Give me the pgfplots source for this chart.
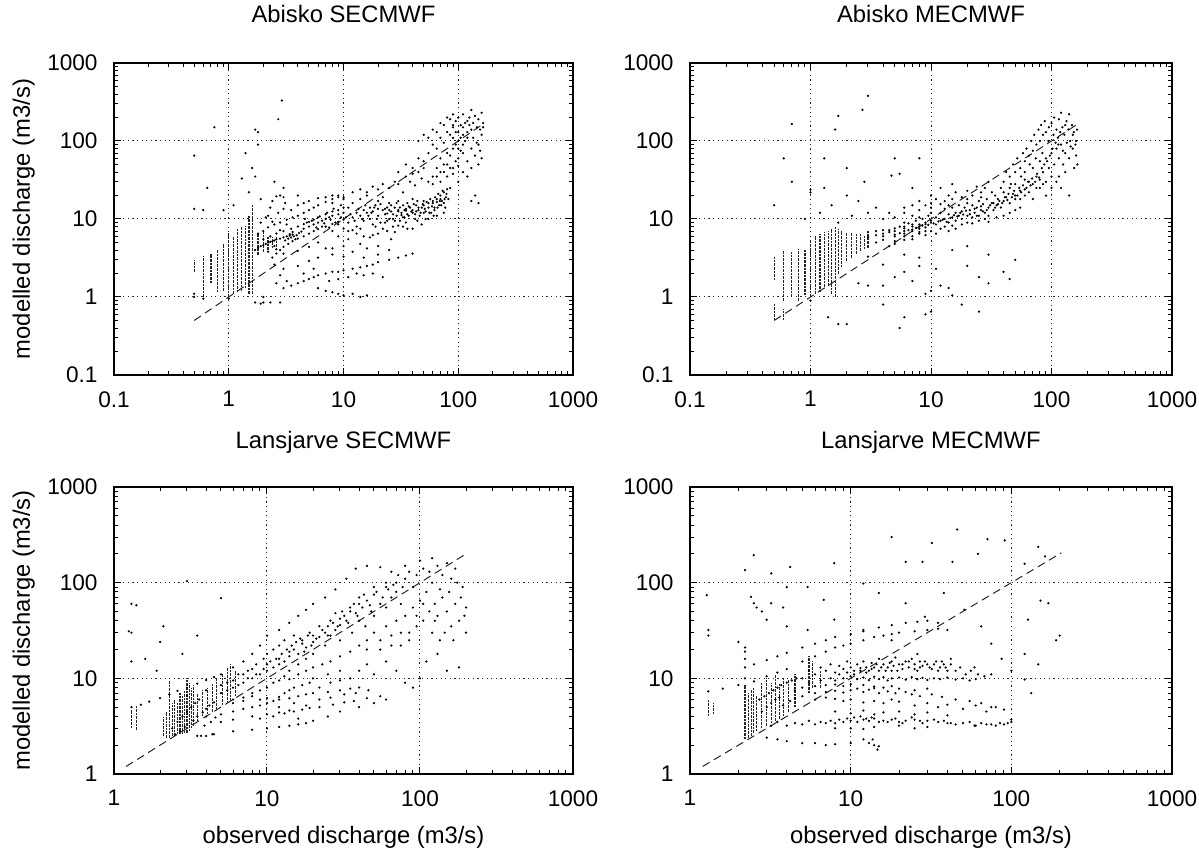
\documentclass[border=0pt]{standalone}
\usepackage{fontspec}
\setmainfont{Liberation Sans}
\usepackage{pgfplots}
\pgfplotsset{compat=1.18}
\newcommand{\fnt}{\fontsize{11.9}{14.2}\selectfont}
\newcommand{\tfnt}{\fontsize{11.3}{13.5}\selectfont}
\pgfplotsset{
  mypanel/.style={
    scale only axis, anchor=south west,
    axis line style={line width=0.8pt},
    tick style={black, line width=0.5pt},
    major tick length=3.5pt, minor tick length=1.8pt,
    tick align=inside,
    grid=major,
    major grid style={black!85, line width=0.5pt, dash pattern=on 0.6pt off 1.7pt},
    tick label style={font=\tfnt},
    label style={font=\fnt},
    xticklabel style={yshift=-4.6pt},
    yticklabel style={xshift=-4.7pt},
    unbounded coords=jump,
  },
  mytop/.style={
    xmin=0.1, xmax=1000, ymin=0.1, ymax=1000,
    xtick={0.1,1,10,100,1000}, xticklabels={0.1,1,10,100,1000},
    ytick={0.1,1,10,100,1000}, yticklabels={0.1,1,10,100,1000},
    minor xtick={0.2,0.3,0.4,0.5,0.6,0.7,0.8,0.9,2,3,4,5,6,7,8,9,20,30,40,50,60,70,80,90,200,300,400,500,600,700,800,900},
    minor ytick={0.2,0.3,0.4,0.5,0.6,0.7,0.8,0.9,2,3,4,5,6,7,8,9,20,30,40,50,60,70,80,90,200,300,400,500,600,700,800,900},
    title style={font=\fnt, at={(axis description cs:0.5,1)}, anchor=base, yshift=14.2pt},
  },
  mybot/.style={
    xmin=1, xmax=1000, ymin=1, ymax=1000,
    xtick={1,10,100,1000}, xticklabels={1,10,100,1000},
    ytick={1,10,100,1000}, yticklabels={1,10,100,1000},
    minor xtick={2,3,4,5,6,7,8,9,20,30,40,50,60,70,80,90,200,300,400,500,600,700,800,900},
    minor ytick={2,3,4,5,6,7,8,9,20,30,40,50,60,70,80,90,200,300,400,500,600,700,800,900},
    xlabel={observed discharge (m3/s)},
    xlabel style={at={(axis description cs:0.5,0)}, anchor=center, yshift=-31.75pt},
    title style={font=\fnt, at={(axis description cs:0.5,1)}, anchor=base, yshift=13pt},
  },
  myleft/.style={
    ylabel={modelled discharge (m3/s)},
    ylabel style={at={(axis description cs:-0.1965,0.5)}, anchor=center},
  },
  mydots/.style={only marks, mark=*, mark size=0.34pt, mark options={draw=none, fill=black!75}},
  mystripes/.style={black!85, line width=0.55pt, dash pattern=on 1.3pt off 0.5pt, no marks},
  mydiag/.style={black!85, line width=0.5pt, dash pattern=on 4pt off 2.5pt, no marks},
}
\begin{document}
\begin{tikzpicture}
\useasboundingbox (0,0) rectangle (599.5pt,424.5pt);

% ---------------- Abisko SECMWF ----------------
\begin{loglogaxis}[mypanel, mytop, myleft, at={(57pt,237pt)}, width=229.5pt, height=156pt, title={Abisko SECMWF}]
\addplot[mystripes] coordinates {
(0.5,2.1) (0.5,3.0) (nan,nan) (0.6,1.0) (0.6,3.4) (nan,nan) (0.7,1.5) (0.7,3.6) (nan,nan)
(0.8,1.15) (0.8,4.1) (nan,nan) (0.9,1.2) (0.9,4.8) (nan,nan) (1.0,1.0) (1.0,6.7) (nan,nan)
(1.1,1.1) (1.1,5.8) (nan,nan) (1.2,1.15) (1.2,7.5) (nan,nan) (1.3,1.2) (1.3,7.8) (nan,nan)
(1.4,1.3) (1.4,8.2) (nan,nan) (1.5,1.1) (1.5,11) (nan,nan) (1.6,1.1) (1.6,15) (nan,nan)
(1.8,3.5) (1.8,6.5) (nan,nan) (2.0,3.8) (2.0,7.0) (nan,nan) (2.2,4.0) (2.2,6.0) (nan,nan)
(2.4,4.2) (2.4,5.8) (nan,nan) (2.6,4.4) (2.6,6.0)
};
\addplot[mydots] coordinates {
(0.5,1.0) (0.5,1.1) (0.6,0.95) (1.0,0.95) (1.7,0.85) (1.9,0.82) (2.0,0.85)
(1.7,4.0) (1.8,4.3) (1.9,4.5) (2.0,4.6) (2.1,4.8) (2.2,5.0) (2.3,5.1) (2.4,5.2) (2.5,5.3) (2.6,5.5) (2.8,5.6) (3.0,5.8) (3.2,6.0) (3.4,6.1) (3.6,6.3)
(1.8,6.5) (2.0,7.0) (2.2,7.8) (2.5,8.5) (2.8,9.0) (3.2,9.8) (3.6,10.5) (4.0,11) (4.5,12) (5,13) (5.5,14) (6,15) (7,16.5) (8,18)
(2.0,5.5) (2.3,6) (2.6,6.5) (3.0,7) (3.5,7.5) (4,8) (4.5,8.6) (5,9.2) (5.5,9.8) (6,10.5) (7,11.5) (8,12.5) (9,13) (10,14)
(2.4,3.2) (2.6,3.6) (2.8,4.0) (3.0,4.4) (3.3,4.8) (3.6,5.2) (4,5.6) (4.5,6.0) (5,6.5) (5.5,7.0) (6,7.4) (7,8) (8,8.6) (9,9.2) (10,9.8)
(3.3,5.6) (3.5,5.8) (3.7,6.0) (3.9,6.2) (3.4,6.4) (3.8,5.5) (4.1,6.6) (4.3,6.9) (3.1,5.3) (3.6,6.8)
(4.5,7.5) (5,8) (5.5,8.5) (6,9) (6.5,9.5) (7,10) (7.5,10.5) (8,11) (9,11.5) (4.8,9) (5.3,9.5) (6.2,10.8) (7.2,12) (8.2,13.5) (9.5,15)
(2.2,3.8) (2.5,4.5) (3.2,8.5) (2.8,7.2) (4.6,10) (5.8,7.8) (6.8,8.8) (7.7,9.8) (2.4,9.2) (2.1,10.5) (1.9,9)
(2.2,11) (2.3,14) (2.4,17) (2.6,19.5) (2.8,20) (3.0,19) (3.1,16) (3.0,13.5) (2.7,12)
(4,15) (5,17) (6,18.5) (7,19) (8,20) (9,19) (10,18) (4.5,16) (3.5,13)
(8,7) (9,8.5) (10,7.5) (10,12) (11,9) (11,14) (12,10.5) (12,16) (13,8) (13,12) (14,11) (14,18) (15,9.5) (15,13) (16,12) (16,20)
(17,10) (17,14) (18,8.5) (18,12.5) (19,15) (20,11) (20,17) (21,9) (22,13) (22,19) (23,11.5) (24,14) (25,10) (25,16) (26,12.5)
(27,8) (28,14) (29,11) (30,13) (30,17) (31,9.5) (32,12) (33,15) (34,10.5) (35,13.5) (36,16) (37,11) (38,14) (40,12) (40,18)
(42,10) (43,15) (45,13) (46,11) (48,14) (50,12) (50,17) (52,10) (55,14) (58,12) (60,16) (62,13) (65,18) (68,15) (70,20) (72,17) (75,22) (78,19) (80,24)
(10.5,10.5) (11.5,11.5) (12.5,9.5) (13.5,13.5) (14.5,10) (15.5,15) (16.5,11) (17.5,12) (18.5,14) (19.5,10) (21,15.5) (23,13.5) (24,9.5) (26,15)
(27,11.5) (28,9.5) (29,16) (31,14) (33,10.5) (34,13) (36,11.5) (37,14.5) (39,12.5) (41,15.5) (43,12.5) (44,17) (47,12) (49,15.5) (51,13.5)
(53,16.5) (56,12) (57,18) (59,14.5) (61,11) (63,19) (66,14) (67,21) (69,17) (71,15) (73,23) (76,18) (77,14) (79,21) (82,18) (85,25)
(9.5,10.5) (8.5,9) (7.5,7.8) (6.5,8) (11,7) (14,7.5) (19,8) (23,9) (27,10) (35,9) (44,9.5) (55,10) (65,11) (75,12)
(9,6) (11,5.5) (13,6.5) (15,6) (17,5.8) (20,6.5) (24,7) (28,6.8) (33,8) (40,7.5) (48,8.5) (12,7.2) (18,6.2) (22,7.5) (30,8.2) (36,7.5)
(26,5.5) (14,4.8) (10,4.5) (8,4.2) (16,4.2) (20,4.5)
(8,16) (9,20) (10,19) (12,22) (14,24) (16,22) (18,26) (20,24) (22,28) (25,25) (28,30) (30,28) (33,22) (35,35) (38,30) (40,38) (42,27) (45,40) (48,33) (50,45)
(20,13.5) (25,13) (30,12.5) (35,12.8) (40,13) (45,14) (50,15) (55,16) (60,17) (65,16.5) (70,18) (75,16) (24,11.8) (32,11.2) (42,11.5) (52,12.5) (62,14)
(30,40) (35,50) (40,45) (45,60) (50,55) (55,70) (60,90) (65,80) (70,110) (75,95) (80,130) (85,120) (90,150) (95,180) (100,200) (105,160) (110,220) (120,180) (130,250) (140,210) (150,190) (160,230)
(45,100) (50,120) (55,110) (60,140) (65,130) (70,170) (75,160) (80,200) (85,190) (90,220)
(60,35) (70,40) (80,50) (90,45) (100,60) (110,70) (120,55) (130,80) (140,65) (150,90) (160,120)
(80,70) (90,80) (100,100) (110,120) (120,110) (130,140) (100,130) (110,150) (90,110) (70,60)
(100,30) (110,40) (120,35) (130,45) (140,20) (150,50) (160,60) (150,16) (130,17)
(55,30) (60,28) (65,35) (70,30) (75,40) (80,35) (85,45) (90,38) (95,55) (100,48) (105,75) (110,90) (115,100) (120,130) (125,160) (135,170)
(145,150) (155,140) (165,170) (95,90) (100,80) (85,65) (75,50) (65,45) (90,160) (95,130) (105,110) (115,170) (125,200) (135,110) (145,95) (155,75) (165,150)
(2.0,1.0) (2.3,0.85) (2.8,0.85) (3.0,1.3) (3.5,1.4) (4,1.5) (4.5,1.6) (5,1.7) (5.5,1.8) (6,1.9) (7,2.0) (8,2.1) (9,2.1) (10,2.2) (12,2.3) (14,2.4) (16,2.5) (18,2.6) (20,2.8) (25,3.0) (30,3.2) (35,3.4) (40,3.6)
(6,1.3) (7,1.2) (8,1.15) (9,1.1) (10,1.05) (12,1.1) (14,1.0) (16,1.05) (7.5,1.6) (9,1.7) (11,1.8) (13,2.0) (15,1.9) (18,2.0) (22,1.8)
(2.5,2.6) (3,2.3) (4,2.5) (5,2.9) (6,3.2) (2.6,1.5) (2.8,1.9) (3.2,1.6) (4.5,2.0) (5.5,2.3)
(2.6,4.1) (3,3.6) (4,3.9) (5,4.4) (6,5) (7,4.2) (8,3.5) (10,3.3) (12,3.8) (15,3.2) (20,3.5) (25,4)
(2.9,330) (2.7,190) (0.75,150) (1.7,140) (1.8,130) (1.4,70) (0.5,65) (0.5,13.5) (0.65,25) (1.8,90) (1.6,45) (1.7,35) (1.3,33)
(2.5,30) (3,25) (4,20) (0.6,13) (0.9,13) (1.1,15) (1.9,18) (1.5,22)
};
\addplot[mydiag] coordinates {(0.5,0.5) (160,160)};
\end{loglogaxis}

% ---------------- Abisko MECMWF ----------------
\begin{loglogaxis}[mypanel, mytop, at={(345pt,237pt)}, width=241pt, height=156pt, title={Abisko MECMWF}]
\addplot[mystripes] coordinates {
(0.5,1.63) (0.5,3.3) (nan,nan) (0.5,0.5) (0.5,0.82) (nan,nan) (0.6,0.9) (0.6,3.9) (nan,nan) (0.6,0.5) (0.6,0.7) (nan,nan)
(0.7,1.0) (0.7,3.8) (nan,nan) (0.8,0.9) (0.8,4.1) (nan,nan) (0.9,1.05) (0.9,4.1) (nan,nan) (1.0,1.0) (1.0,5.3) (nan,nan)
(1.1,1.1) (1.1,6.1) (nan,nan) (1.2,1.15) (1.2,6.4) (nan,nan) (1.3,1.35) (1.3,6.8) (nan,nan) (1.4,1.4) (1.4,7.1) (nan,nan)
(1.5,1.1) (1.5,7.5) (nan,nan) (1.6,1.0) (1.6,7.8) (nan,nan) (1.7,2.0) (1.7,7.5) (nan,nan) (1.8,2.4) (1.8,7.0) (nan,nan)
(2.0,2.9) (2.0,6.7) (nan,nan) (2.2,3.2) (2.2,6.7) (nan,nan) (2.4,3.6) (2.4,6.4) (nan,nan) (2.6,3.9) (2.6,6.4) (nan,nan)
(2.8,4.1) (2.8,6.2) (nan,nan) (3.0,4.3) (3.0,6.4)
};
\addplot[mydots] coordinates {
(3,5.8) (4,6.5) (5,7) (6,7.6) (7,8) (8,8.5) (9,9) (10,9.5)
(3.5,5) (4,5.4) (5,6) (6,6.5) (7,7) (8,7.5) (9,7.8)
(3,6.8) (3.5,7) (4,7.2) (5,7.6) (6,8) (7,8.5)
(4.5,4.5) (5,4.8) (6,5.4) (7,6) (8,6.5) (9,7)
(4,6) (4.5,7.2) (5,6.3) (5.5,8) (6,7) (6.5,8.8) (7,7.3) (7.5,9.5) (8,8) (8.5,10) (9,8.6) (9.5,11) (10,9) (10,12) (11,8.5) (11,10.5)
(12,9.5) (12,12) (13,10) (13,13.5) (14,9) (14,11.5) (15,10.5) (15,14) (16,12) (16,9.5) (17,11) (17,15) (18,12.5) (18,10) (19,14) (20,11) (20,16)
(21,13) (22,10.5) (22,15) (23,12) (24,14) (25,11) (25,17) (26,13) (27,15.5) (28,12) (29,18) (30,14) (30,11) (32,16) (33,13) (34,20) (35,15)
(36,18) (38,14) (40,17) (40,22) (42,19) (45,16) (45,25) (48,21) (50,18) (50,28) (55,23) (60,20) (60,32)
(3.5,6.2) (4.5,6.8) (5.5,6.6) (6.5,7.2) (7.5,7.7) (8.5,8.2) (9.5,8.4) (10.5,8.8) (11.5,9.3) (12.5,9.8) (13.5,9.2) (14.5,10.3) (15.5,11.2)
(16.5,10.8) (17.5,12) (18.5,11.4) (19.5,12.8) (21,11.5) (23,13.5) (24,11) (26,14.5) (27,12.5) (29,13) (31,15) (33,16) (34,14) (36,15.5)
(37,17) (39,16) (41,19) (43,17.5) (44,21) (47,19) (49,23) (52,20) (54,25) (56,22) (58,27) (62,25) (64,30) (67,27) (69,33) (73,30) (76,38)
(79,34) (83,45) (87,50) (92,55) (97,65) (102,80) (108,95) (113,110) (118,130) (123,150) (128,120) (133,180) (138,140) (143,100) (148,160)
(153,130) (158,90) (163,140) (74,60) (84,70) (94,100) (104,120) (114,90) (124,75) (134,95) (144,85) (154,45) (164,50) (66,50) (56,35)
(46,28) (38,25) (32,22) (26,19) (20,18) (14,15) (10,14) (8,10.5) (6,9)
(5,5.2) (6,6) (7,5.5) (8,6.8) (9,6.2) (10,7) (11,6.5) (12,7.5) (13,8) (14,7) (15,8.2) (16,7.5) (18,8.5) (20,9) (22,8.8) (25,9.5) (28,10) (30,9.2) (35,10.5) (40,11) (45,12) (50,13) (55,14)
(5,10.5) (6,12) (7,11) (8,13) (9,15) (10,16) (11,18) (12,15.5) (13,17) (14,20) (15,18) (16,22) (18,19) (20,23) (22,20) (24,26) (26,22) (28,25) (30,30) (7,15) (8,17) (10,20) (12,25) (15,28) (6,14)
(40,30) (42,40) (45,35) (48,50) (50,40) (52,60) (55,45) (58,70) (60,55) (62,80) (65,65) (68,100) (70,75) (72,120) (75,90) (78,140) (80,100) (82,160) (85,120) (88,180) (90,130) (95,150) (100,170) (105,200) (110,140) (115,190) (120,230) (130,160) (140,220) (150,120) (160,100)
(60,40) (65,30) (70,45) (75,35) (80,55) (85,40) (90,60) (95,45) (100,70) (105,50) (110,80) (115,60) (120,90) (130,70) (140,60) (150,80) (160,65)
(80,25) (90,30) (100,35) (110,30) (120,25) (130,40) (140,20) (100,25) (115,35) (125,50)
(50,20) (55,18) (60,24) (65,22) (70,28) (75,25) (80,32) (85,28) (70,18) (90,20)
(0.9,10) (1.2,12) (1.5,15) (2,20) (2.5,17) (3,12) (1.7,9) (2.2,11) (3.5,14) (4,10) (4.5,12) (1,22) (1.3,25) (2.8,30) (5.5,38) (7,25) (4.7,36)
(3,380) (1.7,210) (0.7,165) (2.7,250) (1.6,140) (0.6,60) (1.3,60) (2,45) (5,60) (8,60) (0.5,15) (0.7,30) (1.0,24)
(2.5,1.5) (3,1.4) (4,1.4) (5,1.8) (6,2.1) (7,1.6) (8,2.5) (9,1.1) (10,1.2) (11,2.3) (12,1.4) (14,1.3) (15,1.05) (20,2.5) (25,1.8) (30,1.5) (40,2.1) (45,1.7) (50,3)
(1.7,0.45) (2,0.45) (1.4,0.55) (5.5,0.4) (6,0.55) (4,0.8) (9,0.6) (10,0.65) (25,0.65) (18,0.8) (1,0.9) (15,4) (30,3.5) (20,4.5) (3,3.3) (6,3.5) (4,2.6) (8,3.2)
};
\addplot[mydiag] coordinates {(0.5,0.5) (160,160)};
\end{loglogaxis}

% ---------------- Lansjarve SECMWF ----------------
\begin{loglogaxis}[mypanel, mybot, myleft, at={(57pt,37.5pt)}, width=229.5pt, height=143.5pt, title={Lansjarve SECMWF}]
\addplot[mystripes] coordinates {
(1.3,3.0) (1.3,4.7) (nan,nan) (1.4,2.9) (1.4,5.1) (nan,nan) (2.1,2.5) (2.1,3.9) (nan,nan) (2.2,2.4) (2.2,4.5) (nan,nan)
(2.3,2.4) (2.3,9.5) (nan,nan) (2.4,2.5) (2.4,5.5) (nan,nan) (2.5,2.5) (2.5,6.0) (nan,nan) (2.6,2.6) (2.6,5.5) (nan,nan)
(2.7,2.6) (2.7,7.0) (nan,nan) (2.8,2.6) (2.8,6.5) (nan,nan) (2.9,2.7) (2.9,7.5) (nan,nan) (3.0,2.7) (3.0,10) (nan,nan)
(3.1,2.8) (3.1,9.0) (nan,nan) (3.2,3.0) (3.2,8.0) (nan,nan) (3.3,3.2) (3.3,8.5) (nan,nan) (3.5,3.5) (3.5,7.0) (nan,nan)
(3.8,4.0) (3.8,7.5) (nan,nan) (4.1,4.2) (4.1,8.0) (nan,nan) (4.4,4.5) (4.4,9.0) (nan,nan) (4.7,4.7) (4.7,10) (nan,nan)
(5.1,5.2) (5.1,11) (nan,nan) (5.5,5.5) (5.5,13) (nan,nan) (5.8,5.8) (5.8,14) (nan,nan) (6.2,6.5) (6.2,12)
};
\addplot[mydots] coordinates {
(2.4,3) (2.6,3.5) (2.8,4) (3,4.5) (3.2,5) (3.4,5.5) (3.6,6) (2.5,2.6) (2.7,2.8) (2.9,3.1) (3.3,3.6) (3.5,4.0) (3.8,4.4) (4,4.8) (4.2,5.2) (4.5,5.6)
(3.9,3.2) (4.3,3.5) (4.6,3.9) (3.7,2.5) (4,2.5) (4.4,2.6)
(1.3,5) (1.5,5.3) (1.7,5.7) (2.0,6.2) (2.3,6.8) (2.6,7.4) (3,8) (3.5,8.8) (4,9.6) (4.5,10.3) (5,11) (6,13) (7,15) (8,18) (9,22) (10,28)
(12,32) (14,38) (16,45) (18,52) (20,60) (24,70) (28,85) (33,110) (38,140) (45,150) (55,145) (65,130) (80,150) (100,170) (120,180)
(3,6.5) (4,7.5) (5,8.5) (6,9.5) (7,11) (8,12.5) (10,14) (12,16) (14,19) (17,23) (20,28) (25,35) (30,42) (35,50) (40,60) (50,75) (60,90) (70,100)
(5,7) (5.5,9) (6,8) (6.5,11) (7,9) (7.5,12) (8,10) (8.5,14) (9,11) (9.5,16) (10,12) (10,18) (11,13) (11,20) (12,14) (12,22) (13,15) (13,25)
(14,17) (14,12) (15,20) (15,28) (16,18) (16,14) (17,25) (18,21) (18,16) (19,30) (20,24) (20,18) (22,27) (22,35) (24,30) (24,22) (26,40) (26,28)
(28,32) (28,48) (30,36) (30,25) (32,45) (34,38) (35,55) (36,30) (38,48) (40,40) (40,70) (42,55) (44,35) (45,65) (48,50) (50,45) (50,90)
(55,60) (60,55) (60,100) (65,70) (70,80) (75,60) (80,110) (90,90)
(5.5,7.5) (6.5,8.5) (7.5,10) (8.5,11) (9.5,12.5) (10.5,15) (11.5,16) (12.5,18) (13.5,20) (14.5,22) (15.5,24) (16.5,26) (17.5,19) (18.5,28)
(19.5,22) (21,26) (23,32) (25,28) (27,38) (29,35) (31,50) (33,40) (37,60) (39,45) (43,75) (47,58) (52,80) (57,70) (62,85) (67,95) (72,120)
(77,90) (85,130) (95,120) (105,140) (115,130) (130,150) (150,160) (170,140)
(6,5.5) (7,5.8) (8,7) (9,7.5) (10,8) (11,9) (12,9.5) (13,10.5) (14,9.8) (16,11) (18,12) (20,13) (23,14) (26,15) (30,17) (35,19) (40,22)
(45,20) (55,25) (65,22) (75,30) (85,25) (95,45) (105,60) (125,40) (145,30) (165,25) (185,70) (195,45) (175,100) (155,80) (135,85)
(45,25) (50,30) (55,20) (60,35) (65,28) (70,40) (75,22) (80,45) (85,30) (90,55) (95,35) (100,65) (105,40) (110,80) (115,50) (120,30)
(125,60) (130,45) (135,25) (140,70) (150,50) (160,35) (170,60) (180,40) (190,90) (200,30) (110,15) (130,18) (150,12) (180,13) (200,55) (120,100) (140,120) (160,110)
(4,4) (5,4.2) (6,4.5) (7,4.8) (8,5) (9,5.2) (10,5.5) (12,6) (14,6.2) (16,6.5) (18,6.8) (20,7) (25,7.2) (30,7.5) (35,7.8) (40,8)
(6,6) (7,6.3) (8,6.5) (9,6) (10,6.2) (11,5.8) (12,6.4) (13,7) (14,7.5) (15,8) (17,8.5) (19,9) (22,8) (26,9) (30,9.5)
(5,3.5) (6,3.7) (8,4) (10,4.2) (12,4.4) (14,4.6) (16,3.8)
(9,3.8) (11,4) (13,4.3) (15,4.5) (17,4.7) (19,4.9) (22,5) (27,5.3) (32,5.6) (37,5.8) (45,6.2) (55,6.5) (12,5) (15,5.5) (18,5.2) (22,6) (26,6.3) (32,6.8) (38,7) (46,7.5)
(3.5,2.5) (4.5,2.6) (6,2.8) (8,2.9) (10,3) (12,3.1) (14,3.2) (16,3.3) (18,3.4) (20,3.6) (25,4) (30,4.5) (40,5) (50,5.5) (60,6)
(20,10) (25,11) (30,12) (35,10) (40,12) (45,14) (50,11) (60,15) (70,12) (80,9) (90,8) (100,10)
(1.3,60) (1.3,30) (1.3,15) (2.1,35) (3,104) (5,69) (1.4,58) (1.25,31) (1.9,12) (1.6,16) (2,24) (2.8,18) (3.5,28)
};
\addplot[mydiag] coordinates {(1.2,1.2) (200,200)};
\end{loglogaxis}

% ---------------- Lansjarve MECMWF ----------------
\begin{loglogaxis}[mypanel, mybot, at={(345pt,37.5pt)}, width=241pt, height=143.5pt, title={Lansjarve MECMWF}]
\addplot[mystripes] coordinates {
(1.3,4.0) (1.3,6.0) (nan,nan) (1.4,4.2) (1.4,5.5) (nan,nan) (2.2,2.3) (2.2,8.5) (nan,nan) (2.3,2.4) (2.3,7.0) (nan,nan)
(2.4,2.5) (2.4,7.5) (nan,nan) (2.5,2.7) (2.5,8.0) (nan,nan) (2.6,2.8) (2.6,6.5) (nan,nan) (2.8,3.0) (2.8,9.0) (nan,nan)
(3.0,3.2) (3.0,10) (nan,nan) (3.2,3.4) (3.2,9.0) (nan,nan) (3.4,3.6) (3.4,11) (nan,nan) (3.6,3.8) (3.6,9.0) (nan,nan)
(3.8,4.0) (3.8,10) (nan,nan) (4.1,4.5) (4.1,9.5) (nan,nan) (4.5,5.0) (4.5,11) (nan,nan) (5.5,7.0) (5.5,17) (nan,nan)
(5.8,8.0) (5.8,15) (nan,nan) (6.5,8.0) (6.5,12)
};
\addplot[mydots] coordinates {
(2.2,10) (2.2,13) (2.2,16) (2.2,19) (2.2,21)
(1.3,7.3) (1.6,7.8) (2,8.5) (2.5,9.3) (3,10.5) (3.5,11.5) (4,12.5) (5,15) (6,17) (7,19) (8,21) (9,22) (10,23) (12,25) (14,27) (16,28) (18,29) (20,30) (25,31) (30,32) (35,33) (40,32)
(2.5,14) (3,15.5) (3.5,17) (4,18.5) (5,21) (6,23) (7,25) (8,27) (10,29) (12,31) (15,34) (18,36) (22,38) (26,39) (30,40) (35,38)
(5,10) (5.5,12) (6,11) (6.5,13) (7,12) (7.5,14) (8,11.5) (8.5,13.5) (9,12.5) (9.5,15) (10,13) (10.5,11) (11,14) (11.5,12) (12,15) (12.5,13)
(13,12) (13.5,14.5) (14,13) (15,16) (15,12) (16,14) (17,13) (18,15) (18,12) (19,16.5) (20,14) (21,12.5) (22,15) (23,13) (24,16) (25,14)
(26,12) (27,15) (28,13.5) (30,14) (32,12.5) (34,15) (36,13) (38,14) (40,12)
(4.5,7.5) (5.5,9) (6.5,9.5) (7.5,10) (8.5,11) (9.5,11.5) (10.5,12) (11.5,12.8) (12.5,11.5) (13.5,12.5) (14.5,14) (15.5,13) (16.5,12) (17.5,14.5)
(18.5,13.5) (19.5,12) (21,14) (23,15) (25,12.5) (27,13) (29,15) (31,13) (33,14) (35,12) (37,15) (39,13) (42,14) (45,12) (48,13) (52,11) (56,12) (62,11) (68,10.5) (75,11)
(6,7) (7,7.2) (8,7.4) (9,7.1) (10,7.5) (11,7.8) (12,7.2) (13,7.6) (14,7.9) (15,7) (17,7.3) (19,7) (22,7.2) (24,6.8) (27,6.5) (32,6.8) (37,6.4) (45,6) (55,5.8) (65,5.5) (80,5) (90,4.7)
(3.5,3.5) (4.5,3.4) (5.5,3.6) (6.5,3.5) (7.5,3.6) (8.5,3.7) (9.5,3.8) (10.5,3.9) (11.5,4) (12.5,3.8) (13.5,3.9) (17,3.5) (19,3.8) (21,3.4) (24,3.9) (27,3.6) (33,3.7) (38,3.6) (42,3.4) (55,3.5) (65,3.4) (75,3.3) (85,3.4) (95,3.4)
(8,9.5) (9,10) (10,10.5) (11,9.8) (12,10.2) (13,9.6) (14,10.4) (15,9.8) (16,10.3) (17,9.5) (18,10) (20,10.2) (22,9.7) (24,10.3) (26,9.8)
(28,10.1) (30,9.6) (33,10) (36,9.8) (40,10.2) (45,9.7) (50,10) (55,9.5) (60,9.8)
(5,8) (6,8.3) (7,8.5) (8,8.6) (9,8.3) (10,8.7) (12,8.5) (14,8.2) (16,8) (18,8.3) (20,7.8) (25,7.5) (30,7.8)
(5,6.5) (6,6) (7,6.3) (8,6.1) (9,5.8) (10,6) (12,5.6) (14,5.8) (16,5.5) (18,6) (20,5.7) (25,5.2) (30,5.5) (35,5) (40,5.3) (50,4.8) (60,5.2) (70,4.5)
(8,4.5) (10,4.3) (12,4.6) (14,4.2) (16,4.4) (20,4.5) (25,4.2) (30,4.4) (40,4.1)
(3.2,3.2) (4,3.2) (5,3.3) (6,3.3) (7,3.4) (8,3.4) (9,3.5) (10,3.6) (11,3.5) (12,3.7) (13,3.6) (14,3.8) (15,3.5) (16,3.6) (18,3.7) (20,3.5)
(22,3.6) (25,3.7) (28,3.4) (30,3.6) (35,3.5) (40,3.4) (45,3.3) (50,3.4) (60,3.2) (70,3.3) (80,3.2) (90,3.3) (100,3.5)
(8,3.0) (10,3.0) (12,2.95) (14,3.1) (20,3.2) (25,3.0) (30,3.1)
(3,2.4) (3.5,2.3) (4,2.2) (5,2.1) (6,2.1) (7,2.0) (8,2.05) (10,2.1) (12,2.3) (13,2.1) (14,2.0) (15,1.95) (14.7,1.8) (13.7,2.3)
(2.7,6) (2.9,6.5) (3.1,7) (3.3,7.5) (3.5,8) (3.7,8.5) (4,9) (4.3,9.5) (4.6,10) (2.8,4.5) (3,5) (3.2,5.5) (3.4,6) (3.6,6.3) (3.8,5.2) (4.2,5.8) (4.5,6.2)
(1.3,32) (1.3,28) (1.27,74) (2.49,194) (2.2,135) (3.2,125) (4.2,146) (7.9,160) (18,300) (22,165) (28,165) (32,260) (46,360) (43,165) (62,200) (71,285) (91,277)
(147,237) (162,188) (121,158) (152,65) (127,41) (170,61) (121,18) (100,12) (75,23) (65,35) (51,52) (38,78) (29,44) (22,61) (15,78) (12,98)
(6.8,66) (5.4,90) (4,90) (3.2,61) (2.4,71) (2.5,61) (3,41) (5.4,32) (7.9,41) (12,32) (18,25) (26,18) (42,16) (59,13) (87,16) (147,14)
(121,9.7) (133,7) (100,3.7) (75,5) (59,3.2) (2,24) (2.6,55) (2.8,50) (3.8,55) (4,35) (190,25) (200,28)
};
\addplot[mydiag] coordinates {(1.2,1.2) (205,205)};
\end{loglogaxis}
\end{tikzpicture}
\end{document}
